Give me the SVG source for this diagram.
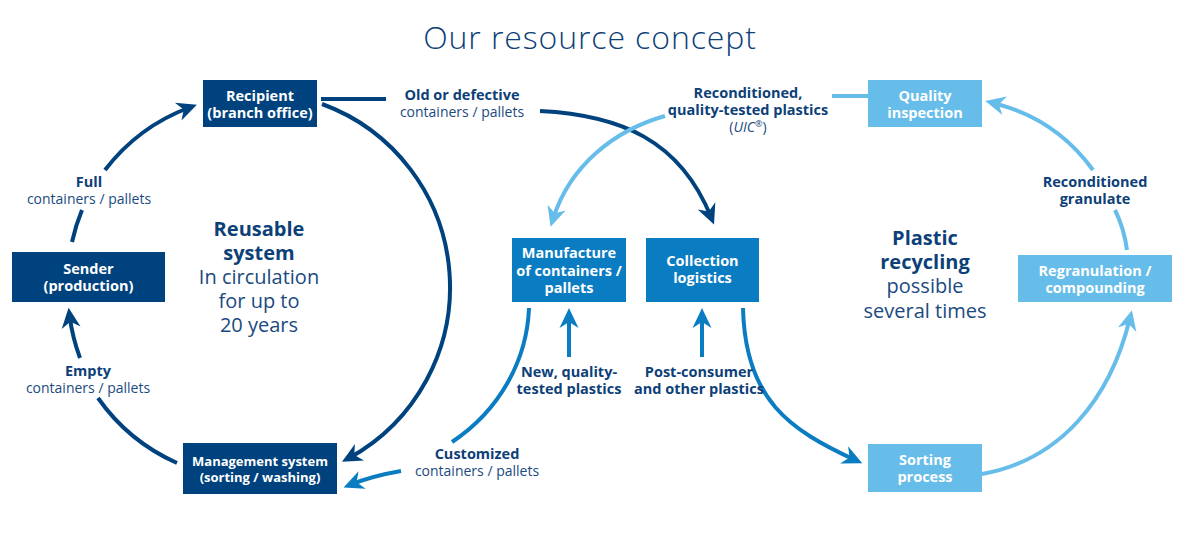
<svg xmlns="http://www.w3.org/2000/svg" width="1180" height="536" viewBox="0 0 1180 536">
<style>
text{font-family:"Open Sans","Noto Sans","DejaVu Sans",sans-serif;text-anchor:middle}
.title{font-size:32px;font-weight:300;fill:#0d3f78;letter-spacing:0.9px}
.bx{font-size:14.5px;font-weight:700;fill:#fff}
.bxs{font-size:13px;font-weight:700;fill:#fff}
.lb{font-size:14.5px;font-weight:700;fill:#0d3f78}
.lr{font-size:14px;font-weight:400;fill:#1a4a80}
.cb{font-size:20px;font-weight:700;fill:#0d3f78}
.cr{font-size:20px;font-weight:400;fill:#1a4a80}
.navy{fill:#00427e}
.mid{fill:#0a7cc1}
.lite{fill:#66bde9}
.cn{fill:none;stroke-width:4}
.cn.n{stroke:#00427e}
.cn.m{stroke:#0a7cc1}
.cn.l{stroke:#66bde9}
</style>
<defs>
<marker id="hn" viewBox="-21 -10 22 20" refX="-8" refY="0" markerWidth="22" markerHeight="20" markerUnits="userSpaceOnUse" orient="auto"><path d="M0,0 L-20,-9.5 L-14,0 L-20,9.5 Z" fill="#00427e"/></marker>
<marker id="hm" viewBox="-21 -10 22 20" refX="-8" refY="0" markerWidth="22" markerHeight="20" markerUnits="userSpaceOnUse" orient="auto"><path d="M0,0 L-20,-9.5 L-14,0 L-20,9.5 Z" fill="#0a7cc1"/></marker>
<marker id="hl" viewBox="-21 -10 22 20" refX="-8" refY="0" markerWidth="22" markerHeight="20" markerUnits="userSpaceOnUse" orient="auto"><path d="M0,0 L-20,-9.5 L-14,0 L-20,9.5 Z" fill="#66bde9"/></marker>
</defs>
<rect width="1180" height="536" fill="#fff"/>
<text class="title" x="590" y="49">Our resource concept</text>

<g id="connectors">
<path class="cn n" d="M72,242 A190,190 0 0 1 82,210"/>
<path class="cn n" d="M105,170 A190,190 0 0 1 189.4,107.5" marker-end="url(#hn)"/>
<path class="cn n" d="M322,104 A195,195 0 0 1 349,458" marker-end="url(#hn)"/>
<path class="cn n" d="M177,463 A192,192 0 0 1 98,398"/>
<path class="cn n" d="M80,358 A192,192 0 0 1 69.6,315.8" marker-end="url(#hn)"/>
<path class="cn n" d="M321,99 H386"/>
<path class="cn n" d="M540,111 C620,115 680,140 711,217" marker-end="url(#hn)"/>
<path class="cn l" d="M832,96 H868"/>
<path class="cn l" d="M665,116 C615,130 570,165 553,219" marker-end="url(#hl)"/>
<path class="cn m" d="M529,308 C527,360 500,410 452,442"/>
<path class="cn m" d="M401,471 Q372,476 351,484.5" marker-end="url(#hm)"/>
<path class="cn m" d="M569,357 V316" marker-end="url(#hm)"/>
<path class="cn m" d="M702,357 V316" marker-end="url(#hm)"/>
<path class="cn m" d="M743,308 C745,400 790,430 855,460" marker-end="url(#hm)"/>
<path class="cn l" d="M982,474 C1060,460 1110,400 1130,318" marker-end="url(#hl)"/>
<path class="cn l" d="M1127,250 Q1124,228 1115,210"/>
<path class="cn l" d="M1093,170 Q1055,118 993,103" marker-end="url(#hl)"/>
</g>

<g id="recipient">
<rect class="navy" x="203" y="80" width="114" height="47"/>
<text class="bx" x="260" y="101">Recipient</text>
<text class="bx" x="260" y="118">(branch office)</text>
</g>
<g id="sender">
<rect class="navy" x="12" y="252" width="153" height="50"/>
<text class="bx" x="88.5" y="274">Sender</text>
<text class="bx" x="88.5" y="291">(production)</text>
</g>
<g id="management">
<rect class="navy" x="183" y="443" width="154" height="51"/>
<text class="bxs" x="260" y="466">Management system</text>
<text class="bxs" x="260" y="482">(sorting / washing)</text>
</g>
<g id="manufacture">
<rect class="mid" x="512" y="238" width="114" height="64"/>
<text class="bx" x="569" y="258">Manufacture</text>
<text class="bx" x="569" y="276">of containers /</text>
<text class="bx" x="569" y="293">pallets</text>
</g>
<g id="collection">
<rect class="mid" x="646" y="238" width="113" height="64"/>
<text class="bx" x="702.5" y="266">Collection</text>
<text class="bx" x="702.5" y="283">logistics</text>
</g>
<g id="quality">
<rect class="lite" x="868" y="80" width="114" height="47"/>
<text class="bx" x="925" y="101">Quality</text>
<text class="bx" x="925" y="118">inspection</text>
</g>
<g id="regranulation">
<rect class="lite" x="1018" y="255" width="154" height="47"/>
<text class="bx" x="1095" y="276">Regranulation /</text>
<text class="bx" x="1095" y="293">compounding</text>
</g>
<g id="sorting">
<rect class="lite" x="868" y="444" width="114" height="48"/>
<text class="bx" x="925" y="465">Sorting</text>
<text class="bx" x="925" y="482">process</text>
</g>

<g id="labels">
<text class="lb" x="89" y="187">Full</text>
<text class="lr" x="89" y="204">containers / pallets</text>
<text class="lb" x="88" y="376">Empty</text>
<text class="lr" x="88" y="393">containers / pallets</text>
<text class="lb" x="462" y="100">Old or defective</text>
<text class="lr" x="462" y="117">containers / pallets</text>
<text class="lb" x="748" y="98">Reconditioned,</text>
<text class="lb" x="748" y="115">quality-tested plastics</text>
<text class="lr" x="748" y="132" font-weight="600">(<tspan font-style="italic">UIC</tspan><tspan font-size="9" dy="-5">®</tspan><tspan dy="5">)</tspan></text>
<text class="lb" x="569" y="377">New, quality-</text>
<text class="lb" x="569" y="394">tested plastics</text>
<text class="lb" x="699" y="377">Post-consumer</text>
<text class="lb" x="699" y="394">and other plastics</text>
<text class="lb" x="477" y="459">Customized</text>
<text class="lr" x="477" y="476">containers / pallets</text>
<text class="lb" x="1095" y="187">Reconditioned</text>
<text class="lb" x="1095" y="204">granulate</text>
</g>
<g id="centers">
<text class="cb" x="259" y="236">Reusable</text>
<text class="cb" x="259" y="260">system</text>
<text class="cr" x="259" y="284">In circulation</text>
<text class="cr" x="259" y="308">for up to</text>
<text class="cr" x="259" y="332">20 years</text>
<text class="cb" x="925" y="245">Plastic</text>
<text class="cb" x="925" y="269">recycling</text>
<text class="cr" x="925" y="293">possible</text>
<text class="cr" x="925" y="318">several times</text>
</g>
</svg>
